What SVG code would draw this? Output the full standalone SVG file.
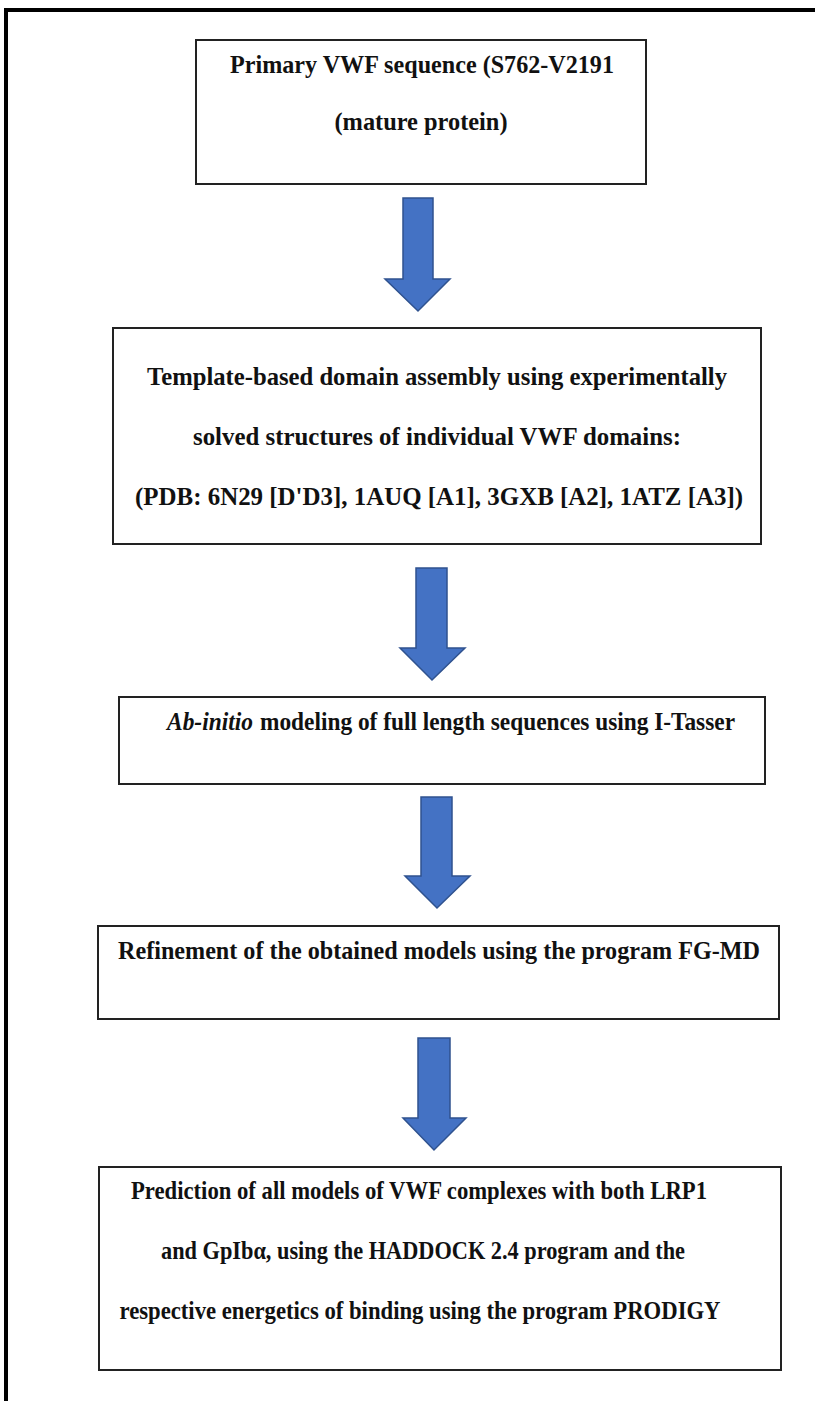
<svg xmlns="http://www.w3.org/2000/svg" width="815" height="1401" viewBox="0 0 815 1401">
<style>
.box{fill:#fff;stroke:#222;stroke-width:2}
.t{font-family:"Liberation Serif","Times New Roman",serif;font-weight:bold;font-size:26px;fill:#111;text-anchor:middle}
.s{text-anchor:start}
.arr{fill:#4472C4;stroke:#2F528F;stroke-width:1.5;stroke-linejoin:miter}
</style>
<rect x="0" y="0" width="815" height="1401" fill="#fff"/>
<g id="frame">
<rect x="4" y="8" width="811" height="4" fill="#000"/>
<rect x="4" y="8" width="4" height="1393" fill="#000"/>
</g>
<g id="n1">
<rect class="box" x="196" y="40" width="450" height="144"/>
<text class="t" x="422" y="73" textLength="384" lengthAdjust="spacingAndGlyphs">Primary VWF sequence (S762-V2191</text>
<text class="t" x="421" y="130" textLength="173" lengthAdjust="spacingAndGlyphs">(mature protein)</text>
</g>
<g id="n2">
<rect class="box" x="113" y="328" width="648" height="216"/>
<text class="t" x="437" y="385" textLength="580" lengthAdjust="spacingAndGlyphs">Template-based domain assembly using experimentally</text>
<text class="t" x="437" y="445" textLength="488" lengthAdjust="spacingAndGlyphs">solved structures of individual VWF domains:</text>
<text class="t" x="439" y="505" textLength="608" lengthAdjust="spacingAndGlyphs">(PDB: 6N29 [D'D3], 1AUQ [A1], 3GXB [A2], 1ATZ [A3])</text>
</g>
<g id="n3">
<rect class="box" x="119" y="697" width="646" height="87"/>
<text class="t s" x="167" y="730" font-style="italic" textLength="86" lengthAdjust="spacingAndGlyphs">Ab-initio</text>
<text class="t s" x="260" y="730" textLength="475" lengthAdjust="spacingAndGlyphs">modeling of full length sequences using I-Tasser</text>
</g>
<g id="n4">
<rect class="box" x="98" y="926" width="681" height="93"/>
<text class="t" x="439" y="959" textLength="642" lengthAdjust="spacingAndGlyphs">Refinement of the obtained models using the program FG-MD</text>
</g>
<g id="n5">
<rect class="box" x="99" y="1167" width="682" height="203"/>
<text class="t" x="419" y="1199" textLength="576" lengthAdjust="spacingAndGlyphs">Prediction of all models of VWF complexes with both LRP1</text>
<text class="t" x="423" y="1259" textLength="524" lengthAdjust="spacingAndGlyphs">and GpIbα, using the HADDOCK 2.4 program and the</text>
<text class="t" x="420" y="1319" textLength="601" lengthAdjust="spacingAndGlyphs">respective energetics of binding using the program PRODIGY</text>
</g>
<g id="connectors">
<path class="arr" d="M403,198 H433 V279 H450 L418,311 L385,279 H403 Z"/>
<path class="arr" d="M416,568 H447 V648 H465 L432,680 L400,648 H416 Z"/>
<path class="arr" d="M421,797 H452 V876 H470 L437,908 L405,876 H421 Z"/>
<path class="arr" d="M418,1038 H450 V1118 H466 L434,1150 L403,1118 H418 Z"/>
</g>
</svg>
